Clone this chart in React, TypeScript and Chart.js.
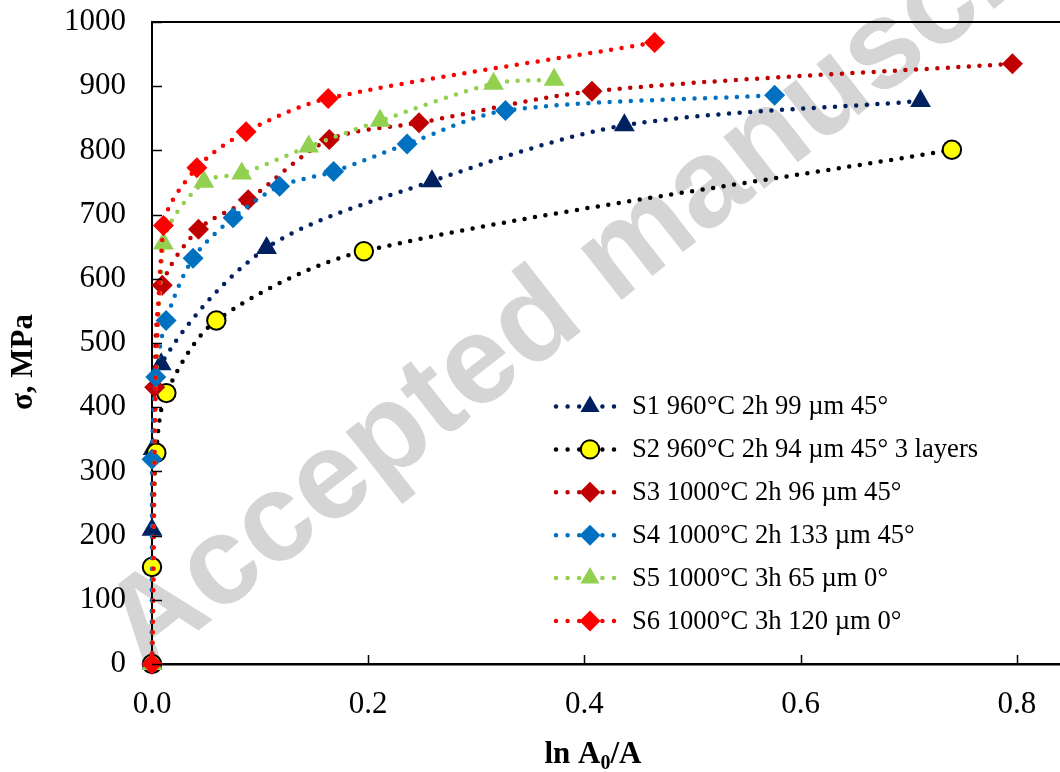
import React, { useEffect, useRef } from 'react';
import { Chart, registerables } from 'chart.js';

Chart.register(...registerables);

// ---- Data ----
const S1_X = [0, 0, 0.001, 0.0085, 0.106, 0.259, 0.437, 0.711];
const S1_Y = [0, 209, 335, 467, 648, 752, 839, 877];

const S2_X = [0, 0, 0.004, 0.0133, 0.0595, 0.196, 0.740];
const S2_Y = [0, 151, 329, 422, 535, 643, 801];

const S3_X = [0, 0.0025, 0.0095, 0.043, 0.089, 0.164, 0.247, 0.407, 0.796];
const S3_Y = [0, 431, 590, 677, 723, 817, 843, 892, 935];

const S4_X = [0, 0, 0.0035, 0.013, 0.038, 0.075, 0.118, 0.168, 0.236, 0.327, 0.576];
const S4_Y = [0, 319, 447, 535, 632, 695, 744, 767, 810, 862, 886];

const S5_X = [0, 0.0106, 0.048, 0.083, 0.145, 0.211, 0.316, 0.372];
const S5_Y = [0, 655, 751, 764, 806, 846, 904, 910];

const S6_X = [0, 0.0106, 0.0415, 0.087, 0.163, 0.465];
const S6_Y = [0, 683, 773, 829, 881, 968];

const SERIES_LABELS = [
  'S1 960°C 2h 99 µm 45°',
  'S2 960°C 2h 94 µm 45° 3 layers',
  'S3 1000°C 2h 96 µm 45°',
  'S4 1000°C 2h 133 µm 45°',
  'S5 1000°C 3h 65 µm 0°',
  'S6 1000°C 3h 120 µm 0°',
];

const X_TICKS = [0, 0.2, 0.4, 0.6, 0.8];
const Y_TICKS = [0, 100, 200, 300, 400, 500, 600, 700, 800, 900, 1000];

const X_TITLE_MAIN = 'ln A';
const X_TITLE_SUB = '0';
const X_TITLE_END = '/A';
const Y_TITLE = 'σ, MPa';
const WATERMARK = 'Accepted manuscript';

// ---- Styles ----
const SERIF = '"Times New Roman", "Liberation Serif", serif';
const SANS = 'Arial, "Liberation Sans", sans-serif';

const STYLES = [
  { line: '#002060', fill: '#002060', edge: '#002060', shape: 'triangle', r: 12 },
  { line: '#000000', fill: '#FFFF00', edge: '#000000', shape: 'circle', r: 9.2 },
  { line: '#C00000', fill: '#C00000', edge: '#C00000', shape: 'rectRot', r: 10.5 },
  { line: '#0070C0', fill: '#0070C0', edge: '#0070C0', shape: 'rectRot', r: 10.5 },
  { line: '#92D050', fill: '#92D050', edge: '#92D050', shape: 'triangle', r: 12 },
  { line: '#FF0000', fill: '#FF0000', edge: '#FF0000', shape: 'rectRot', r: 10.5 },
];

const SERIES_X = [S1_X, S2_X, S3_X, S4_X, S5_X, S6_X];
const SERIES_Y = [S1_Y, S2_Y, S3_Y, S4_Y, S5_Y, S6_Y];

function drawMarker(ctx: CanvasRenderingContext2D, shape: string, x: number, y: number, r: number, fill: string, edge: string, bw: number) {
  ctx.beginPath();
  if (shape === 'circle') {
    ctx.arc(x, y, r, 0, Math.PI * 2);
  } else if (shape === 'triangle') {
    ctx.moveTo(x, y - r);
    ctx.lineTo(x + r * Math.sin(Math.PI / 3), y + r / 2);
    ctx.lineTo(x - r * Math.sin(Math.PI / 3), y + r / 2);
  } else {
    ctx.moveTo(x - r, y);
    ctx.lineTo(x, y - r);
    ctx.lineTo(x + r, y);
    ctx.lineTo(x, y + r);
  }
  ctx.closePath();
  ctx.fillStyle = fill;
  ctx.fill();
  if (bw > 0) {
    ctx.lineWidth = bw;
    ctx.strokeStyle = edge;
    ctx.setLineDash([]);
    ctx.stroke();
  }
}

const watermarkPlugin = {
  id: 'watermark',
  beforeDraw(chart: any) {
    const ctx = chart.ctx as CanvasRenderingContext2D;
    ctx.save();
    ctx.fillStyle = '#ffffff';
    ctx.fillRect(0, 0, chart.width, chart.height);
    ctx.translate(144, 673);
    ctx.rotate((-38 * Math.PI) / 180);
    ctx.font = `bold 125px ${SANS}`;
    ctx.fillStyle = '#d5d5d5';
    ctx.textAlign = 'left';
    ctx.textBaseline = 'alphabetic';
    ctx.fillText(WATERMARK, 0, 0);
    ctx.restore();
  },
};

const decorPlugin = {
  id: 'decor',
  afterDatasetsDraw(chart: any) {
    const ctx = chart.ctx as CanvasRenderingContext2D;
    const area = chart.chartArea;
    const xs = chart.scales.x;
    const ys = chart.scales.y;
    ctx.save();
    ctx.strokeStyle = '#000';
    ctx.setLineDash([]);
    // top border
    ctx.lineWidth = 2;
    ctx.beginPath();
    ctx.moveTo(area.left, area.top);
    ctx.lineTo(area.right, area.top);
    ctx.stroke();
    // inward y ticks
    ctx.lineWidth = 1.5;
    Y_TICKS.forEach((v) => {
      const py = Math.round(ys.getPixelForValue(v)) + 0.5;
      ctx.beginPath();
      ctx.moveTo(area.left, py);
      ctx.lineTo(area.left + 10, py);
      ctx.stroke();
    });
    // inward x ticks
    X_TICKS.forEach((v) => {
      if (v === 0) return;
      const px = Math.round(xs.getPixelForValue(v)) + 0.5;
      ctx.beginPath();
      ctx.moveTo(px, area.bottom);
      ctx.lineTo(px, area.bottom - 9);
      ctx.stroke();
    });

    // legend
    const rowY0 = 406.5;
    const rowGap = 42.9;
    chart.data.datasets.forEach((ds: any, i: number) => {
      const st = STYLES[i];
      const y = rowY0 + i * rowGap;
      ctx.save();
      ctx.strokeStyle = st.line;
      ctx.lineWidth = 4.5;
      ctx.lineCap = 'round';
      ctx.setLineDash([0, 11.6]);
      ctx.beginPath();
      ctx.moveTo(556, y);
      ctx.lineTo(620, y);
      ctx.stroke();
      ctx.restore();
      drawMarker(ctx, st.shape, 590, y, st.shape === 'triangle' ? 11 : st.r, st.fill, st.edge, st.shape === 'circle' ? 2 : 0);
      ctx.fillStyle = '#000';
      ctx.font = `26.6px ${SERIF}`;
      ctx.textAlign = 'left';
      ctx.textBaseline = 'middle';
      ctx.fillText(ds.label, 632, y + 1);
    });

    // axis titles
    ctx.fillStyle = '#000';
    ctx.font = `bold 31px ${SERIF}`;
    ctx.textBaseline = 'alphabetic';
    const mainW = ctx.measureText(X_TITLE_MAIN).width;
    const endW = ctx.measureText(X_TITLE_END).width;
    ctx.font = `bold 20px ${SERIF}`;
    const subW = ctx.measureText(X_TITLE_SUB).width;
    const total = mainW + subW + endW;
    let tx = 593 - total / 2;
    const ty = 763;
    ctx.font = `bold 31px ${SERIF}`;
    ctx.textAlign = 'left';
    ctx.fillText(X_TITLE_MAIN, tx, ty);
    tx += mainW;
    ctx.font = `bold 20px ${SERIF}`;
    ctx.fillText(X_TITLE_SUB, tx, ty + 6);
    tx += subW;
    ctx.font = `bold 31px ${SERIF}`;
    ctx.fillText(X_TITLE_END, tx, ty);

    ctx.save();
    ctx.translate(32, 362);
    ctx.rotate(-Math.PI / 2);
    ctx.textAlign = 'center';
    ctx.fillText(Y_TITLE, 0, 0);
    ctx.restore();

    ctx.restore();
  },
};

function zeroPadding(s: any) {
  s.paddingTop = 0;
  s.paddingBottom = 0;
  s.paddingLeft = 0;
  s.paddingRight = 0;
}

export default function App() {
  const ref = useRef<HTMLCanvasElement | null>(null);
  useEffect(() => {
    document.body.style.margin = '0';
    if (!ref.current) return;
    const datasets = SERIES_LABELS.map((label, i) => {
      const st = STYLES[i];
      return {
        label,
        data: SERIES_X[i].map((x, j) => ({ x, y: SERIES_Y[i][j] })),
        showLine: true,
        borderColor: st.line,
        borderWidth: 4.5,
        borderDash: [0, 10.6],
        borderCapStyle: 'round',
        tension: 0.3,
        pointStyle: st.shape,
        pointRadius: st.r,
        pointHoverRadius: st.r,
        pointBackgroundColor: st.fill,
        pointBorderColor: st.edge,
        pointBorderWidth: st.shape === 'circle' ? 2 : 0,
        clip: false,
        order: 5 - i,
      };
    });
    const chart = new Chart(ref.current, {
      type: 'scatter',
      data: { datasets: datasets as any },
      options: {
        animation: false,
        responsive: false,
        devicePixelRatio: 1,
        layout: { autoPadding: false, padding: { top: 22, right: 0, left: 0, bottom: 0 } },
        plugins: { legend: { display: false }, tooltip: { enabled: false } },
        scales: {
          x: {
            type: 'linear',
            min: 0,
            max: 0.84,
            grid: { display: false, drawTicks: false },
            border: { display: true, color: '#000', width: 2.5 },
            afterBuildTicks: (s: any) => {
              s.ticks = X_TICKS.map((v) => ({ value: v }));
            },
            afterFit: (s: any) => {
              s.height = 108;
              zeroPadding(s);
            },
            ticks: {
              color: '#000',
              padding: 22,
              font: { family: SERIF, size: 31 },
              maxRotation: 0,
              autoSkip: false,
              callback: (v: any) => Number(v).toFixed(1),
            },
          },
          y: {
            type: 'linear',
            min: 0,
            max: 1000,
            grid: { display: false, drawTicks: false },
            border: { display: true, color: '#000', width: 2 },
            afterBuildTicks: (s: any) => {
              s.ticks = Y_TICKS.map((v) => ({ value: v }));
            },
            afterFit: (s: any) => {
              s.width = 152;
              zeroPadding(s);
            },
            ticks: {
              color: '#000',
              padding: 26,
              font: { family: SERIF, size: 31 },
              autoSkip: false,
              callback: (v: any) => String(v),
            },
          },
        },
      },
      plugins: [watermarkPlugin, decorPlugin],
    });
    return () => chart.destroy();
  }, []);
  return <canvas ref={ref} width={1060} height={772} style={{ display: 'block' }} />;
}
